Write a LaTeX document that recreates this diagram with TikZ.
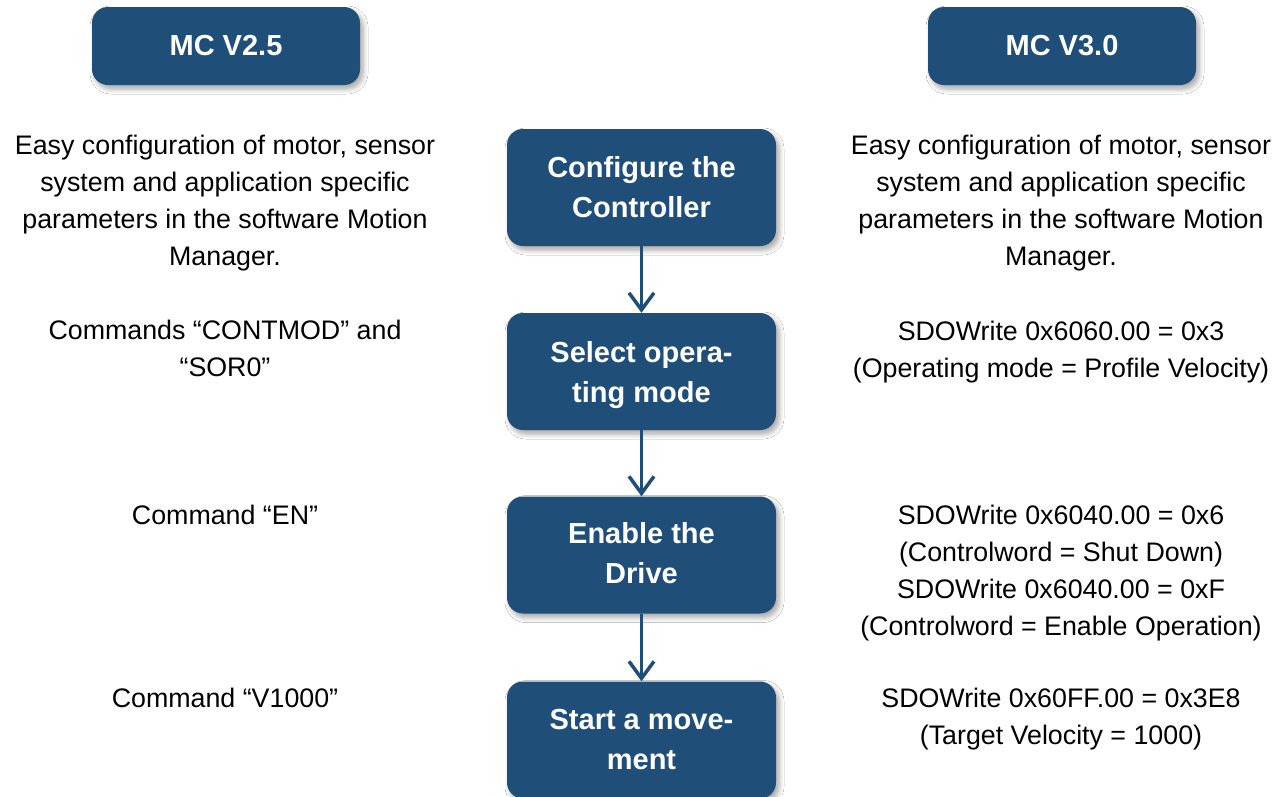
\documentclass[tikz,border=0pt]{standalone}
\usepackage{fontspec}
\setmainfont{Liberation Sans}
\usetikzlibrary{arrows.meta,shadows.blur}
\definecolor{boxblue}{RGB}{31,78,121}
\tikzset{
  bluebox/.style={draw=none, fill=boxblue, rounded corners=16pt, text=white,
    font=\fontsize{29}{40}\selectfont\bfseries, align=center,
    blur shadow={shadow xshift=3pt, shadow yshift=-4pt, shadow blur steps=6, shadow opacity=35, shadow blur radius=5pt}},
  sidetext/.style={anchor=north, inner sep=0pt, align=center, text=black,
    font=\fontsize{26.8}{37}\selectfont},
  flow/.style={draw=boxblue, line width=3.5pt, -{Straight Barb[length=17pt,width=25pt]}}
}
\begin{document}
\begin{tikzpicture}[x=1pt,y=-1pt]
\useasboundingbox (0,0) rectangle (1285,796);
\fill[white] (0,0) rectangle (1285,796);

\node[bluebox, minimum width=268pt, minimum height=78pt] (mc25) at (226,46) {MC V2.5};
\node[bluebox, minimum width=268pt, minimum height=78pt] (mc30) at (1062,46) {MC V3.0};

\node[bluebox, minimum width=269pt, minimum height=117pt] (c1) at (641.5,187.5) {Configure the\\Controller};
\node[bluebox, minimum width=269pt, minimum height=117pt] (c2) at (641.5,371.5) {\rule{0pt}{27.5pt}Select opera-\\ting mode};
\node[bluebox, minimum width=269pt, minimum height=117pt] (c3) at (641.5,555) {Enable the\\Drive\rule[-4pt]{0pt}{4pt}};
\node[bluebox, minimum width=269pt, minimum height=117pt] (c4) at (641.5,740) {Start a move-\\ment};

\draw[flow] (c1.south) -- (c2.north);
\draw[flow] (c2.south) -- (c3.north);
\draw[flow] (c3.south) -- (c4.north);

\node[sidetext] (l1) at (225,135) {Easy configuration of motor, sensor\\system and application specific\\parameters in the software Motion\\Manager.};
\node[sidetext] (l2) at (225,320) {Commands “CONTMOD” and\\“SOR0”};
\node[sidetext] (l3) at (225,505) {Command “EN”};
\node[sidetext] (l4) at (225,688) {Command “V1000”};

\node[sidetext] (r1) at (1061,135) {Easy configuration of motor, sensor\\system and application specific\\parameters in the software Motion\\Manager.};
\node[sidetext] (r2) at (1061,321) {SDOWrite 0x6060.00 = 0x3\\(Operating mode = Profile Velocity)};
\node[sidetext] (r3) at (1061,505) {SDOWrite 0x6040.00 = 0x6\\(Controlword = Shut Down)\\SDOWrite 0x6040.00 = 0xF\\(Controlword = Enable Operation)};
\node[sidetext] (r4) at (1061,688) {SDOWrite 0x60FF.00 = 0x3E8\\(Target Velocity = 1000)};
\end{tikzpicture}
\end{document}
